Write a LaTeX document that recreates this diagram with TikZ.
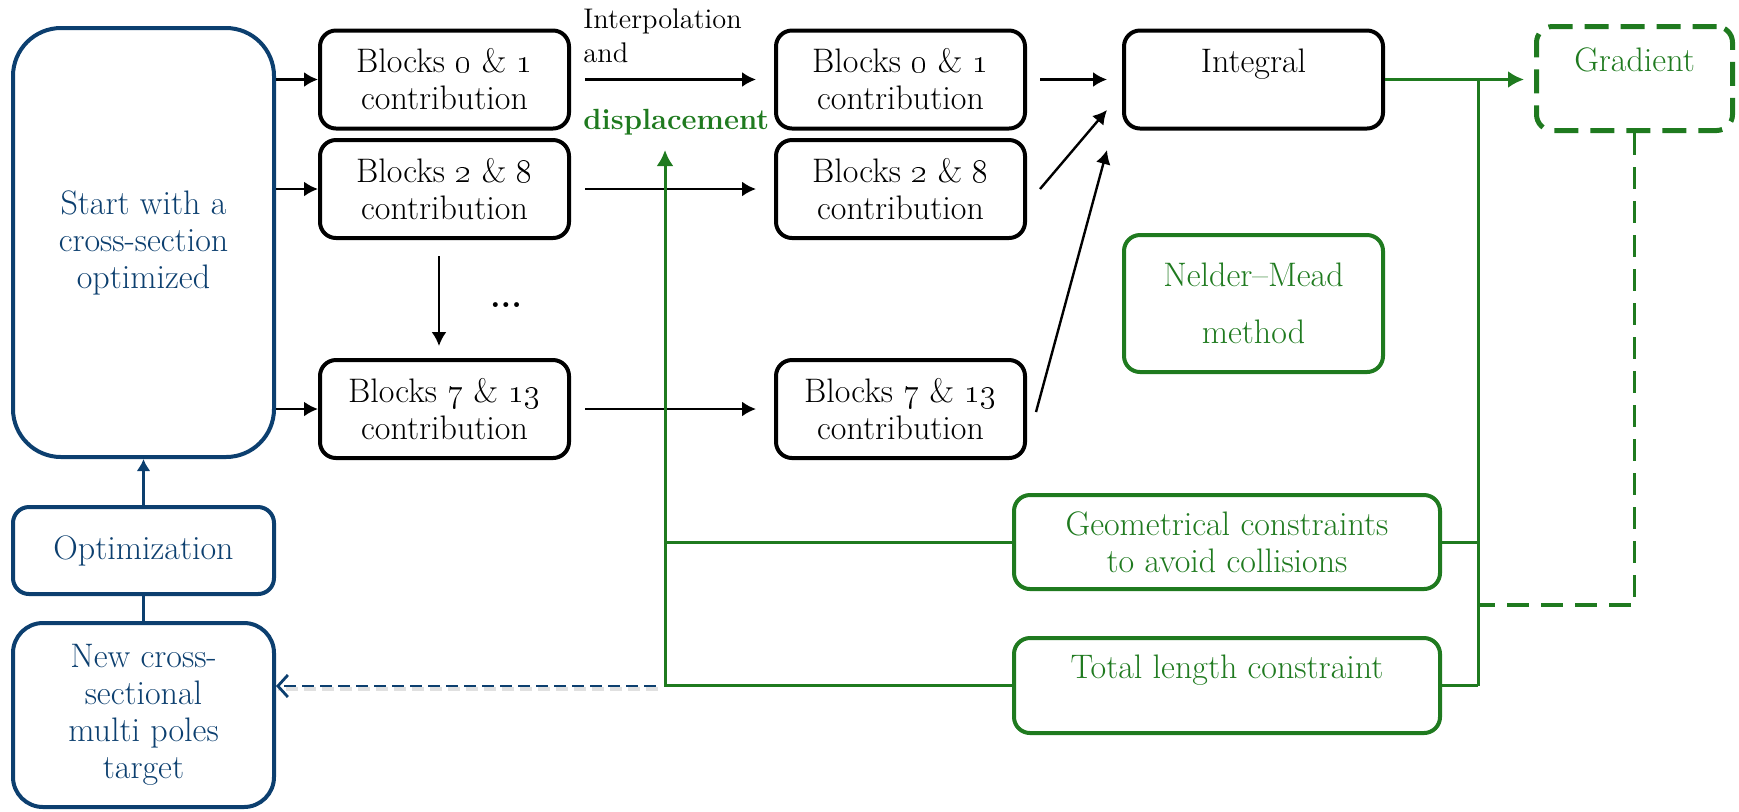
\documentclass[tikz,border=0pt]{standalone}
\usetikzlibrary{arrows.meta}
\definecolor{blueC}{HTML}{0C3F6F}
\definecolor{greenC}{HTML}{1F7A1F}
\newcommand{\osn}[1]{\oldstylenums{#1}}
\begin{document}
\begin{tikzpicture}[x=0.5pt,y=-0.5pt,
 every node/.style={font=\fontsize{17}{18.5}\selectfont, align=center, inner sep=0pt},
 bbox/.style={draw=black, line width=2pt, rounded corners=8pt, minimum width=124.5pt, minimum height=49pt},
 bluebox/.style={draw=blueC, text=blueC, line width=2pt},
 greenbox/.style={draw=greenC, text=greenC, line width=2pt, rounded corners=8pt},
 blk/.style={-{Latex[length=7pt,width=7.5pt]}, line width=1.2pt},
 gline/.style={draw=greenC, line width=1.5pt},
 garr/.style={gline, -{Latex[length=8pt,width=8.5pt]}},
 gdash/.style={gline, line width=1.8pt, dash pattern=on 11pt off 6pt},
 bdash/.style={draw=blueC, line width=1.4pt, dash pattern=on 6pt off 3pt, -{Straight Barb[length=5pt,width=11pt]}}
]
\useasboundingbox (0,0) rectangle (1739,811);

% left column
\node[bluebox, rounded corners=24pt, minimum width=130.5pt, minimum height=214.5pt] (start) at (143.5,242.5) {Start with a\\cross-section\\optimized};
\node[bluebox, rounded corners=8pt, minimum width=130.5pt, minimum height=43.5pt] (opt) at (143.5,550.5) {Optimization};
\node[bluebox, rounded corners=15pt, minimum width=130.5pt, minimum height=92pt] (newc) at (143.5,715) {New cross-\\sectional\\multi poles\\target};

% block columns
\node[bbox] (L01) at (444.5,79.5) {Blocks \osn{0} \& \osn{1}\\contribution};
\node[bbox] (L28) at (444.5,189) {Blocks \osn{2} \& \osn{8}\\contribution};
\node[bbox] (L713) at (444.5,409) {Blocks \osn{7} \& \osn{13}\\contribution};
\node[bbox] (R01) at (900.5,79.5) {Blocks \osn{0} \& \osn{1}\\contribution};
\node[bbox] (R28) at (900.5,189) {Blocks \osn{2} \& \osn{8}\\contribution};
\node[bbox] (R713) at (900.5,409) {Blocks \osn{7} \& \osn{13}\\contribution};

\node[bbox, minimum width=129.5pt] (integral) at (1253.5,79.5) {Integral\\\phantom{I}};
\node[greenbox, line width=2.5pt, dash pattern=on 12pt off 6pt, minimum width=98pt, minimum height=52pt] (grad) at (1634.5,78.5) {Gradient\\\phantom{G}};
\node[greenbox, minimum width=129.5pt, minimum height=68.5pt] (nm) at (1253.5,303.5) {Nelder--Mead\\[10pt]method};
\node[greenbox, minimum width=213pt, minimum height=47pt] (geom) at (1227,542) {Geometrical constraints\\to avoid collisions};
\node[greenbox, minimum width=213pt, minimum height=47.5pt] (total) at (1227,685.5) {Total length constraint\\\phantom{T}};

% labels
\node[anchor=west, font=\fontsize{14.2}{15}\selectfont] (interp) at (583,21) {Interpolation};
\node[anchor=west, font=\fontsize{14.2}{15}\selectfont] (andl) at (583,53) {and};
\node[anchor=west, font=\fontsize{14.6}{15}\selectfont\bfseries, text=greenC] (disp) at (583,122) {displacement};
\node (dots) at (506,305) {\textbf{...}};

% coordinates
\coordinate (bx) at (1478,0);
\coordinate (gx) at (665,0);
\coordinate (gtop) at (665,150);
\coordinate (dy) at (0,605);
\coordinate (bs) at (656,686);

% black connectors
\draw[blk] (start.east |- L01.west) -- (L01.west);
\draw[blk] (start.east |- L28.west) -- (L28.west);
\draw[blk] (start.east |- L713.west) -- (L713.west);
\draw[blk, shorten <=7pt, shorten >=9pt] (L01.east) -- (R01.west);
\draw[blk, shorten <=7pt, shorten >=9pt] (L28.east) -- (R28.west);
\draw[blk, shorten <=7pt, shorten >=9pt] (L713.east) -- (R713.west);
\draw[blk] ([xshift=-2.75pt,yshift=-8pt]L28.south) -- ([xshift=-2.75pt,yshift=6pt]L713.north);
\draw[blk, shorten <=6.5pt, shorten >=7.5pt] (R01.east) -- (integral.west);
\draw[blk] ([xshift=6.5pt]R28.east) -- ([xshift=-7.5pt,yshift=-15.25pt]integral.west);
\draw[blk] ([xshift=4.5pt,yshift=-1.5pt]R713.east) -- ([xshift=-7.5pt,yshift=-35.25pt]integral.west);

% blue connectors
\draw[draw=blueC, line width=1.5pt, -{Latex[length=6pt,width=7pt]}] (opt.north) -- (start.south);
\draw[draw=blueC, line width=1.5pt] (newc.north) -- (opt.south);
\draw[black!12, line width=2.2pt, dash pattern=on 6pt off 3pt, transform canvas={shift={(0.8pt,-1.5pt)}}] (bs) -- (newc.east |- bs);
\draw[bdash] (bs) -- (newc.east |- bs);

% green connectors
\draw[gline] (integral.east -| bx) -- (total.east -| bx);
\draw[garr, shorten >=5pt] (integral.east) -- (grad.west |- integral.east);
\draw[gline] (geom.east) -- (geom.east -| bx);
\draw[gline] (total.east) -- (total.east -| bx);
\draw[gdash] (grad.south) -- (grad.south |- dy) -- (dy -| bx);
\draw[gline] (geom.west) -- (geom.west -| gx);
\draw[garr] (total.west) -- (total.west -| gx) -- (gtop);
\end{tikzpicture}
\end{document}
